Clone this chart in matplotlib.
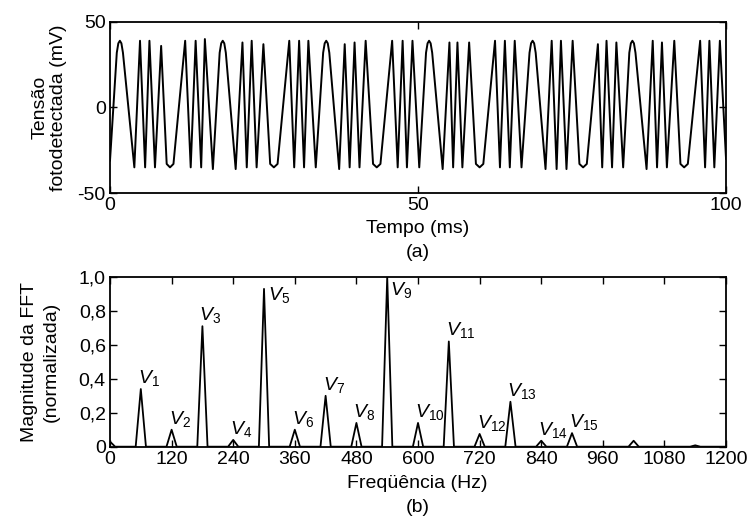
import numpy as np
import matplotlib
matplotlib.use('Agg')
import matplotlib.pyplot as plt

plt.rcParams['font.family'] = ['Liberation Sans', 'DejaVu Sans']
plt.rcParams['mathtext.fontset'] = 'custom'
plt.rcParams['mathtext.rm'] = 'Liberation Sans'
plt.rcParams['mathtext.it'] = 'Liberation Sans:italic'

# (a) photodetected voltage, turning points
sig_t = [0, 1.1, 1.35, 1.6, 1.85, 2.1, 3.95, 4.87, 5.7, 6.4, 7.3, 8.3, 9.2, 9.74, 10.3, 12.2, 13.1, 13.9, 14.8, 15.4, 16.7,
         17.8, 18.05, 18.3, 18.55, 18.8, 20.4, 21.5, 22.2, 23.0, 23.8, 24.9, 26.0, 26.6, 27.2, 29.1, 29.9, 30.7, 31.5, 32.2, 33.4,
         34.6, 34.85, 35.1, 35.35, 35.6, 37.2, 38.1, 38.9, 39.7, 40.5, 41.5, 42.7, 43.3, 43.9, 45.8, 46.7, 47.5, 48.2, 49.1, 50.2,
         51.3, 51.55, 51.8, 52.05, 52.3, 54.0, 55.1, 55.7, 56.4, 57.2, 58.3, 59.4, 60.0, 60.6, 62.5, 63.3, 64.1, 64.9, 65.7, 66.8,
         68.1, 68.35, 68.6, 68.85, 69.1, 70.7, 71.7, 72.5, 73.2, 74.1, 75.1, 76.2, 76.8, 77.4, 79.2, 79.9, 80.6, 81.5, 82.2, 83.3,
         84.3, 84.55, 84.8, 85.05, 85.3, 87.1, 88.1, 88.8, 89.6, 90.4, 91.6, 92.6, 93.2, 93.8, 95.8, 96.6, 97.3, 98.1, 99.0, 100]
sig_v = [-31, 32, 37.5, 39, 37.5, 32, -35, 39, -35, 39, -35, 36, -33, -35, -33, 39, -35, 39, -35, 40, -36,
         32, 37.5, 39, 37.5, 32, -36, 38, -35, 39, -35, 37, -33, -35, -33, 39, -35, 39, -35, 39, -35,
         32, 37.5, 39, 37.5, 32, -36, 37, -35, 38, -35, 39, -33, -35, -33, 39, -35, 39, -35, 39, -35,
         32, 37.5, 39, 37.5, 32, -36, 38, -35, 38, -35, 38, -33, -35, -33, 39, -35, 39, -35, 39, -35,
         32, 37.5, 39, 37.5, 32, -36, 39, -36, 39, -36, 39, -33, -35, -33, 37, -35, 39, -35, 38, -35,
         32, 37.5, 39, 37.5, 32, -36, 39, -35, 38, -35, 39, -33, -35, -33, 39, -35, 39, -35, 39, -30]

# (b) normalized FFT magnitude (10 Hz bins, only non-zero bins listed)
peak_freq = [0, 60, 120, 180, 240, 300, 360, 420, 480, 540, 600, 660, 720, 780, 840, 900, 1020, 1140]
peak_mag = [0.03, 0.34, 0.10, 0.71, 0.04, 0.93, 0.10, 0.30, 0.14, 1.00, 0.14, 0.62, 0.075, 0.265, 0.035, 0.08, 0.035, 0.008]
v_names = ['1', '2', '3', '4', '5', '6', '7', '8', '9', '10', '11', '12', '13', '14', '15']

top_xticks = [0, 50, 100]
top_yticks = [-50, 0, 50]
top_yticklabels = ['-50', '0', '50']
bot_xticks = [0, 120, 240, 360, 480, 600, 720, 840, 960, 1080, 1200]
bot_yticks = [0, 0.2, 0.4, 0.6, 0.8, 1.0]
bot_yticklabels = ['0', '0,2', '0,4', '0,6', '0,8', '1,0']

fs = 14

fig = plt.figure(figsize=(7.54, 5.2), dpi=100)
ax1 = fig.add_axes([0.1459, 0.6288, 0.817, 0.329])
ax2 = fig.add_axes([0.1459, 0.141, 0.817, 0.3263])

for ax in (ax1, ax2):
    ax.tick_params(direction='in', top=True, right=True, length=5, width=1, labelsize=fs, pad=3)
    for s in ax.spines.values():
        s.set_linewidth(1.3)

ax1.plot(sig_t, sig_v, color='black', lw=1.4)
ax1.set_xlim(0, 100)
ax1.set_ylim(-50, 50)
ax1.set_xticks(top_xticks)
ax1.set_yticks(top_yticks)
ax1.set_yticklabels(top_yticklabels)
ax1.set_ylabel('Tensão\nfotodetectada (mV)', fontsize=fs, linespacing=1.1)
ax1.yaxis.set_label_coords(-0.070, 0.5)

freqs = np.arange(0, 1201, 10)
mag = np.zeros(len(freqs))
for f, h in zip(peak_freq, peak_mag):
    mag[f // 10] = h
ax2.plot(freqs, mag, color='black', lw=1.3)
ax2.set_xlim(0, 1200)
ax2.set_ylim(0, 1)
ax2.set_xticks(bot_xticks)
ax2.set_yticks(bot_yticks)
ax2.set_yticklabels(bot_yticklabels)
ax2.set_ylabel('Magnitude da FFT\n(normalizada)', fontsize=fs, linespacing=1.35)
ax2.yaxis.set_label_coords(-0.082, 0.5)

special = {'5': (4, -11), '9': (3, -18)}
for f, h, n in zip(peak_freq[1:16], peak_mag[1:16], v_names):
    dx, dy = special.get(n, (-3, 6))
    ax2.annotate('$V_{' + n + '}$', xy=(f, h), xytext=(dx, dy), textcoords='offset pixels',
                 ha='left', va='baseline', fontsize=fs)

fig.text(0.554, 0.5615, 'Tempo (ms)', ha='center', va='center', fontsize=fs)
fig.text(0.554, 0.515, '(a)', ha='center', va='center', fontsize=fs)
fig.text(0.554, 0.071, 'Freqüência (Hz)', ha='center', va='center', fontsize=fs)
fig.text(0.554, 0.025, '(b)', ha='center', va='center', fontsize=fs)

fig.savefig('out.png', dpi=100)
